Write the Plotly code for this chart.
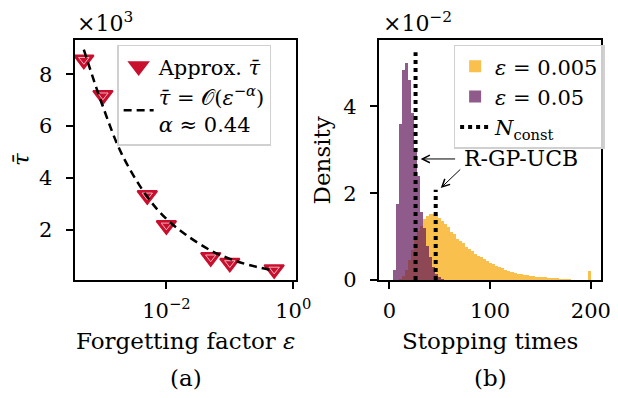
"""Stopping-time figure: (a) mean stopping time vs forgetting factor, (b) histograms."""

import plotly.graph_objects as go
from plotly.subplots import make_subplots

# ---- panel (a) data (tau in units of 1e3) ----
eps = [0.0005, 0.001, 0.005, 0.01, 0.05, 0.1, 0.5]
tau_approx = [8.56, 7.19, 3.33, 2.17, 0.94, 0.72, 0.47]

eps_fit = [0.0005, 0.001, 0.002, 0.005, 0.01, 0.02, 0.05, 0.1, 0.2, 0.5]
tau_fit = [8.95, 6.75, 4.9, 3.27, 2.42, 1.82, 1.2, 0.88, 0.64, 0.42]

# ---- panel (b) data (density in units of 1e-2) ----
purple_x = [4.5, 7.5, 10.5, 13.5, 16.5, 19.5, 22.5, 25.5, 28.5, 31.5, 34.5,
            37.5, 40.5, 43.5, 46.5, 49.5, 52.5]
purple_y = [0.24, 1.75, 3.6, 4.83, 5.0, 4.6, 3.85, 3.0, 2.39, 1.57, 1.2,
            0.78, 0.53, 0.31, 0.14, 0.06, 0.03]

yellow_x = [10.5, 13.5, 16.5, 19.5, 22.5, 25.5, 28.5, 31.5, 34.5, 37.5, 40.5,
            43.5, 46.5, 49.5, 52.5, 55.5, 58.5, 61.5, 64.5, 67.5, 70.5, 73.5,
            76.5, 79.5, 82.5, 85.5, 88.5, 91.5, 94.5, 97.5, 100.5, 103.5,
            106.5, 109.5, 112.5, 115.5, 118.5, 121.5, 124.5, 127.5, 130.5,
            133.5, 136.5, 139.5, 142.5, 145.5, 148.5, 151.5, 154.5, 157.5,
            160.5, 163.5, 166.5, 169.5, 172.5, 175.5, 178.5, 181.5, 184.5,
            187.5, 190.5, 193.5, 198.5]
yellow_y = [0.03, 0.1, 0.24, 0.45, 0.7, 0.92, 1.12, 1.25, 1.4, 1.48, 1.52,
            1.53, 1.5, 1.42, 1.35, 1.3, 1.22, 1.1, 1.05, 0.95, 0.9, 0.85,
            0.77, 0.72, 0.66, 0.6, 0.56, 0.53, 0.49, 0.44, 0.4, 0.36,
            0.32, 0.29, 0.27, 0.24, 0.21, 0.19, 0.17, 0.15, 0.14,
            0.12, 0.11, 0.1, 0.09, 0.08, 0.07, 0.06, 0.06, 0.05,
            0.05, 0.04, 0.04, 0.03, 0.03, 0.02, 0.02, 0.01, 0.01,
            0.01, 0.005, 0.005, 0.2]

n_const = [26, 46]
n_const_top = [5.25, 2.08]

FONT = "DejaVu Serif"
RED = "#C8102E"

fig = make_subplots(rows=1, cols=2)

# panel (a)
fig.add_trace(
    go.Scatter(
        x=eps, y=tau_approx, mode="markers", name="Approx. <i>τ̄</i>",
        marker=dict(symbol="triangle-down", size=17, color=RED,
                    line=dict(color=RED, width=2)),
        legend="legend",
    ),
    row=1, col=1,
)
fig.add_trace(
    go.Scatter(
        x=eps, y=tau_approx, mode="markers", showlegend=False, hoverinfo="skip",
        marker=dict(symbol="triangle-down-open", size=9,
                    color="rgba(255,200,210,0.95)", line=dict(width=0.9)),
    ),
    row=1, col=1,
)
fig.add_trace(
    go.Scatter(
        x=eps_fit, y=tau_fit, mode="lines", line_shape="spline",
        name="<i>τ̄</i> = 𝒪(<i>ε</i><sup>−<i>α</i></sup>)<br><i>α</i> ≈ 0.44",
        line=dict(color="black", width=2.5, dash="8px,5px"),
        legend="legend",
    ),
    row=1, col=1,
)

# panel (b)
fig.add_trace(
    go.Bar(x=yellow_x, y=yellow_y, width=3, name="<i>ε</i> = 0.005",
           marker=dict(color="rgba(248,168,10,0.72)", line=dict(width=0)),
           legend="legend2"),
    row=1, col=2,
)
fig.add_trace(
    go.Bar(x=purple_x, y=purple_y, width=3, name="<i>ε</i> = 0.05",
           marker=dict(color="rgba(96,22,88,0.7)", line=dict(width=0)),
           legend="legend2"),
    row=1, col=2,
)
for i, (n, top) in enumerate(zip(n_const, n_const_top)):
    fig.add_trace(
        go.Scatter(
            x=[n, n], y=[0, top], mode="lines",
            name="<i>N</i><sub>const</sub>", showlegend=(i == 0),
            line=dict(color="black", width=4, dash="dot"),
            legend="legend2",
        ),
        row=1, col=2,
    )

axis_style = dict(
    showline=True, mirror=True, linecolor="black", linewidth=2,
    ticks="outside", ticklen=7, tickwidth=2, tickcolor="black",
    showgrid=False, zeroline=False,
    tickfont=dict(family=FONT, size=21, color="black"),
)

fig.update_xaxes(
    type="log", range=[-3.446, 0.04], tickvals=[0.01, 1],
    ticktext=["10<sup>−2</sup>", "10<sup>0</sup>"], ticklabelstandoff=4,
    domain=[0.1105, 0.4773], **axis_style, row=1, col=1,
)
fig.update_yaxes(range=[0.06, 9.32], tickvals=[2, 4, 6, 8],
                 ticklabelstandoff=9,
                 domain=[0.2952, 0.917], **axis_style, row=1, col=1)
fig.update_xaxes(range=[-10.5, 210], tickvals=[0, 100, 200],
                 ticklabelstandoff=4,
                 domain=[0.6149, 0.9833], **axis_style, row=1, col=2)
fig.update_yaxes(range=[0, 5.53], tickvals=[0, 2, 4], ticklabelstandoff=9,
                 domain=[0.2952, 0.917], **axis_style, row=1, col=2)

legend_style = dict(
    bgcolor="rgba(255,255,255,0.8)", bordercolor="#d0d0d0", borderwidth=1.5,
    font=dict(family=FONT, size=21, color="black"),
    xanchor="left", yanchor="top", tracegroupgap=0,
)
fig.update_layout(
    legend=dict(x=0.181, y=0.905, **legend_style),
    legend2=dict(x=0.739, y=0.905, **legend_style),
)


def label(text, x, y, angle=0, size=23):
    fig.add_annotation(
        text=text, x=x / 618, y=1 - y / 398, xref="paper", yref="paper",
        showarrow=False, textangle=angle, xanchor="center", yanchor="middle",
        font=dict(family=FONT, size=size, color="black"),
    )


label("Forgetting factor <i>ε</i>", 182, 343)
label("(a)", 182, 382)
label("<i>τ̄</i>", 14, 156, angle=-90)
label("×10<sup>3</sup>", 99, 14, size=22)
label("Stopping times", 494, 343)
label("(b)", 495, 382)
label("Density", 322, 157, angle=-90)
label("×10<sup>−2</sup>", 420, 14, size=22)

# R-GP-UCB annotation with two arrows
fig.add_annotation(
    text="R-GP-UCB", x=130.5, y=2.79, xref="x2", yref="y2", showarrow=False,
    font=dict(family=FONT, size=22, color="black"),
)
fig.add_annotation(
    text="", x=31, y=2.79, xref="x2", yref="y2", ax=36, ay=0,
    showarrow=True, arrowhead=5, arrowsize=1.5, arrowwidth=1,
    arrowcolor="black",
)
fig.add_annotation(
    text="", x=51, y=2.12, xref="x2", yref="y2", ax=21, ay=-20,
    showarrow=True, arrowhead=5, arrowsize=1.5, arrowwidth=1,
    arrowcolor="black",
)

fig.update_layout(
    width=618, height=398,
    margin=dict(l=0, r=0, t=0, b=0),
    plot_bgcolor="white", paper_bgcolor="white",
    barmode="overlay", bargap=0,
    font=dict(family=FONT, color="black"),
)

fig.write_html("out.html")
